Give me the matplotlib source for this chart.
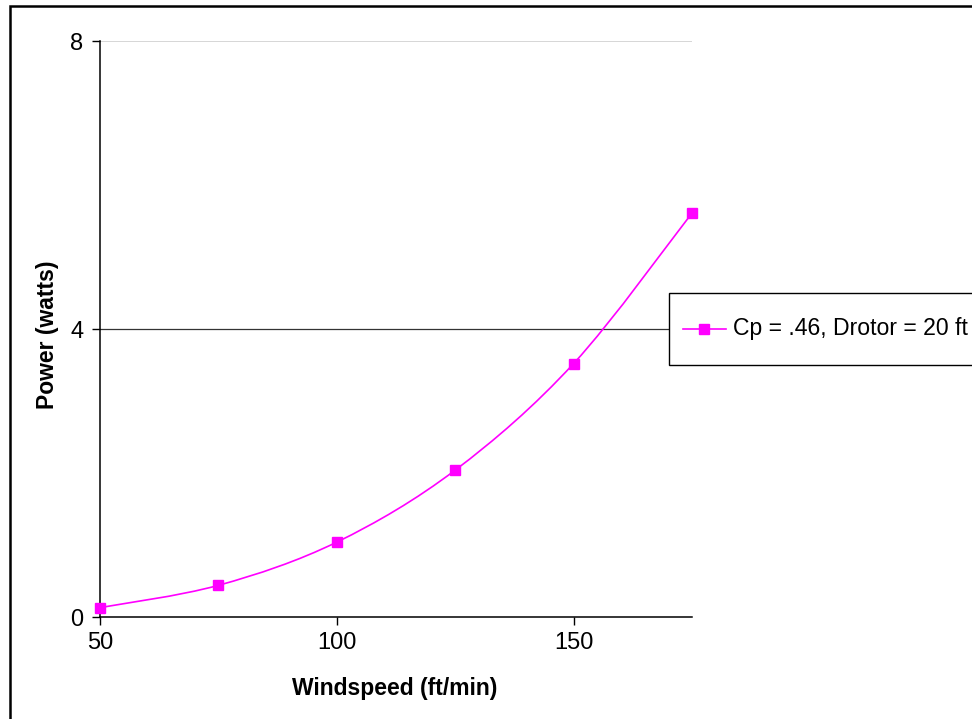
import matplotlib
matplotlib.use('Agg')
import matplotlib.pyplot as plt
from matplotlib.path import Path
from matplotlib.patches import PathPatch, Rectangle
from matplotlib.lines import Line2D

plt.rcParams['font.family'] = ['Liberation Sans', 'DejaVu Sans']

# data
windspeed = [50, 75, 100, 125, 150, 175]
power = [0.13, 0.44, 1.04, 2.04, 3.52, 5.61]
series_label = 'Cp = .46, Drotor = 20 ft'
yticks = [0, 4, 8]
xticks = [50, 100, 150]

MAGENTA = '#FF00FF'
W, H = 972, 719

fig = plt.figure(figsize=(W / 100, H / 100), dpi=100)
ax = fig.add_axes([100/W, 1 - 617/H, 592/W, 576/H])

# smoothed line (Excel style) drawn as cubic bezier segments between the points
pts = list(zip(windspeed, power))
verts = [pts[0]]
codes = [Path.MOVETO]
n = len(pts)
for i in range(n - 1):
    p0 = pts[max(i - 1, 0)]
    p1 = pts[i]
    p2 = pts[i + 1]
    p3 = pts[min(i + 2, n - 1)]
    c1 = (p1[0] + (p2[0] - p0[0]) / 6, p1[1] + (p2[1] - p0[1]) / 6)
    c2 = (p2[0] - (p3[0] - p1[0]) / 6, p2[1] - (p3[1] - p1[1]) / 6)
    verts += [c1, c2, p2]
    codes += [Path.CURVE4, Path.CURVE4, Path.CURVE4]
ax.add_patch(PathPatch(Path(verts, codes), facecolor='none', edgecolor=MAGENTA,
                       lw=1.2, zorder=3, clip_on=False))
ax.plot(windspeed, power, linestyle='none', marker='s', ms=6.5,
        color=MAGENTA, zorder=4, clip_on=False)

# gridlines
ax.axhline(4, color='#333333', lw=0.9, zorder=1)
ax.axhline(8, color='#d0d0d0', lw=1.2, zorder=1)

ax.set_xlim(50, 175)
ax.set_ylim(0, 8)
ax.set_xticks(xticks)
ax.set_yticks(yticks)
ax.tick_params(direction='out', length=6, width=1, labelsize=17, colors='black')
ax.tick_params(axis='y', pad=6)
ax.tick_params(axis='x', pad=5)
for s in ['top', 'right']:
    ax.spines[s].set_visible(False)
for s in ['left', 'bottom']:
    ax.spines[s].set_linewidth(1.1)

ax.set_xlabel('Windspeed (ft/min)', fontsize=16.5, fontweight='bold')
ax.set_ylabel('Power (watts)', fontsize=16.5, fontweight='bold')
ax.xaxis.set_label_coords(0.498, -0.105)
ax.yaxis.set_label_coords(-0.069, 0.49)

# legend box, Excel style (runs off the right edge like the original)
fig.patches.append(Rectangle((669/W, 1 - 365/H), 0.5, 72/H,
                             transform=fig.transFigure, facecolor='white',
                             edgecolor='black', lw=1.0, zorder=5))
fig.lines.append(Line2D([683/W, 704/W, 726/W], [1 - 329/H] * 3,
                        transform=fig.transFigure, color=MAGENTA, lw=1.2,
                        marker='s', ms=6.5, markevery=[1], zorder=6))
fig.text(733/W, 1 - 329/H, series_label, fontsize=16.6, ha='left',
         va='center', zorder=6)

# outer chart border
fig.patches.append(Rectangle((10/W, -0.5), 2, (1 - 6/H) + 0.5,
                             transform=fig.transFigure, fill=False,
                             edgecolor='black', lw=1.8))

fig.savefig('out.png', dpi=100)
